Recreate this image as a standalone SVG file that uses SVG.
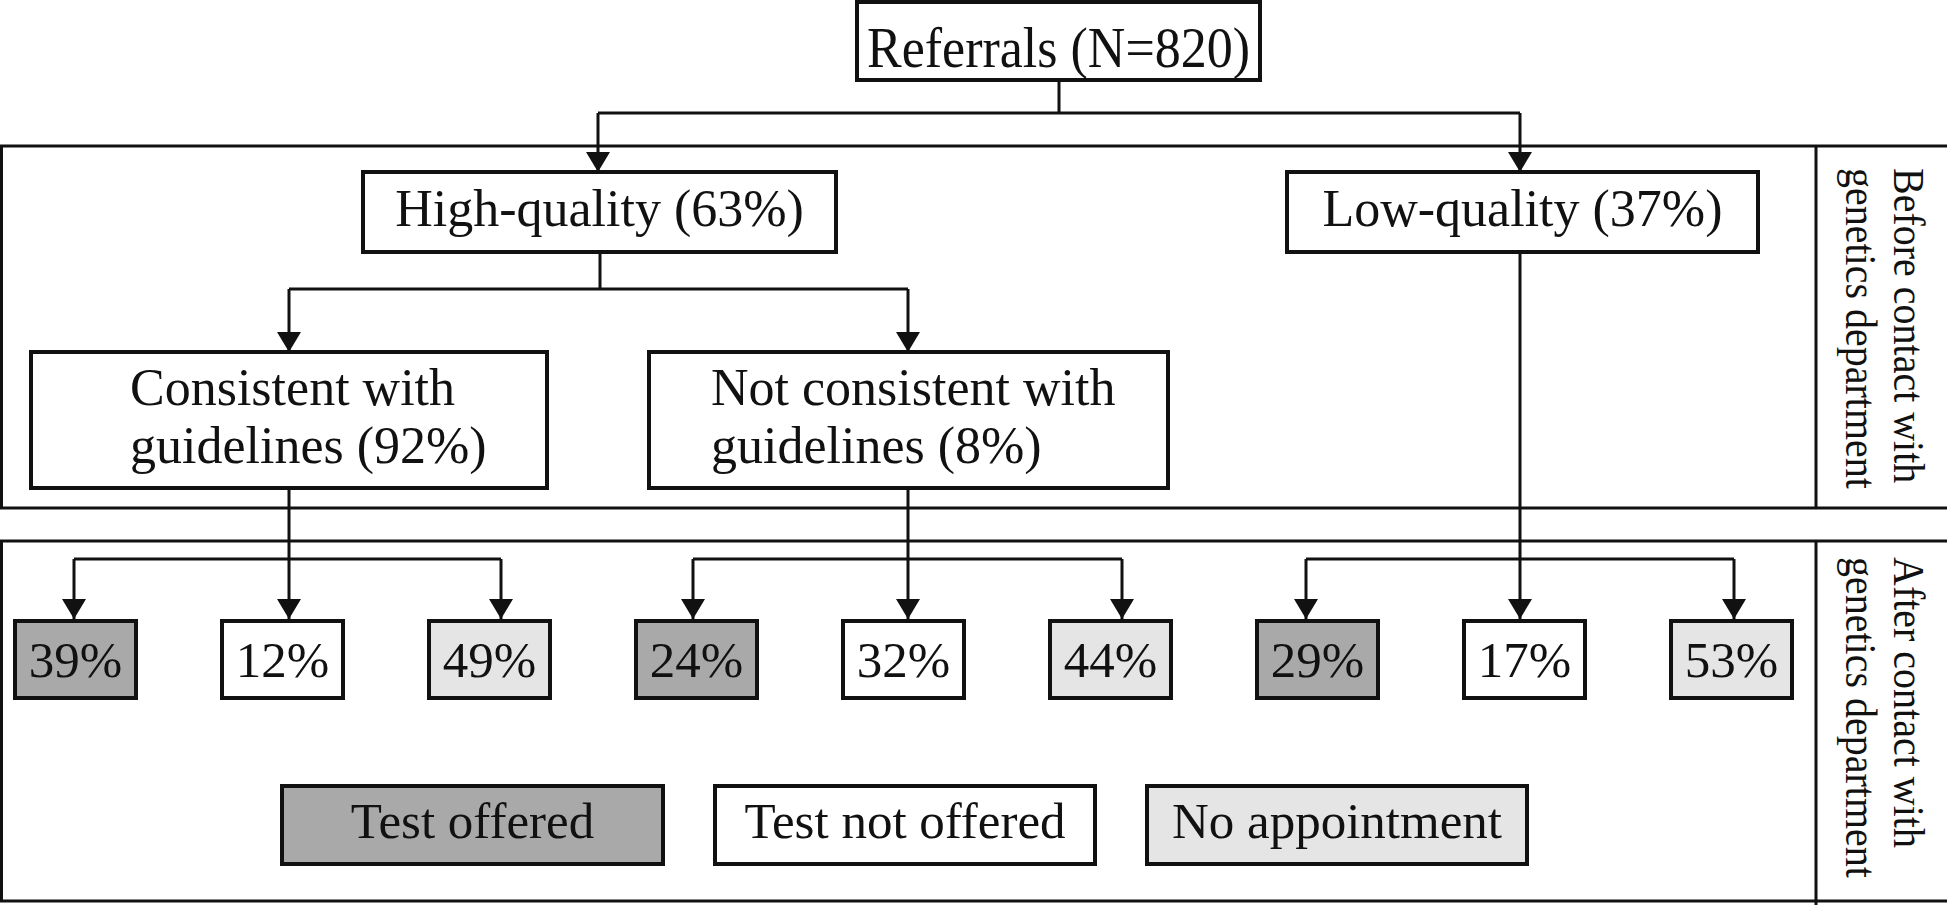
<svg xmlns="http://www.w3.org/2000/svg" width="1947" height="905" viewBox="0 0 1947 905">
<style>
  .box { fill: #ffffff; stroke: #111111; stroke-width: 4; }
  .dark { fill: #a9a9a9; stroke: #111111; stroke-width: 4; }
  .light { fill: #e5e5e5; stroke: #111111; stroke-width: 4; }
  .band { fill: none; stroke: #111111; stroke-width: 3; }
  .t { font-family: "Liberation Serif", "Times New Roman", serif; font-size: 52px; fill: #111111; }
  .p { font-family: "Liberation Serif", "Times New Roman", serif; font-size: 51px; fill: #111111; text-anchor: middle; }
  .side { font-family: "Liberation Serif", "Times New Roman", serif; font-size: 40px; fill: #111111; }
  .c { stroke: #111111; stroke-width: 3; fill: none; }
  .ca { stroke: #111111; stroke-width: 3; fill: none; marker-end: url(#arr); }
</style>
<defs>
  <marker id="arr" markerUnits="userSpaceOnUse" markerWidth="22" markerHeight="26" refX="20" refY="12" orient="auto">
    <path d="M0,0 L20,12 L0,24 Z" fill="#111111"/>
  </marker>
</defs>
<rect width="1947" height="905" fill="#ffffff"/>

<g id="band-before">
  <path class="band" d="M1947,146 H1.5 V508 H1947 M1816,146 V508"/>
  <text class="side" transform="translate(1894,168) rotate(90) scale(1,1.12)">Before contact with</text>
  <text class="side" transform="translate(1846,168) rotate(90) scale(1,1.12)">genetics department</text>
</g>
<g id="band-after">
  <path class="band" d="M1947,541 H1.5 V901 H1947 M1816,541 V905"/>
  <text class="side" transform="translate(1894,557) rotate(90) scale(1,1.12)">After contact with</text>
  <text class="side" transform="translate(1846,557) rotate(90) scale(1,1.12)">genetics department</text>
</g>

<g id="connectors">
  <path class="c" d="M1059,80 V113 M598,113 H1520"/>
  <path class="ca" d="M598,113 V172"/>
  <path class="ca" d="M1520,113 V172"/>
  <path class="c" d="M600,252 V289 M289,289 H908"/>
  <path class="ca" d="M289,289 V352"/>
  <path class="ca" d="M908,289 V352"/>
  <path class="c" d="M74,559 H501"/>
  <path class="ca" d="M289,488 V619"/>
  <path class="ca" d="M74,559 V619"/>
  <path class="ca" d="M501,559 V619"/>
  <path class="c" d="M693,559 H1122"/>
  <path class="ca" d="M908,488 V619"/>
  <path class="ca" d="M693,559 V619"/>
  <path class="ca" d="M1122,559 V619"/>
  <path class="c" d="M1306,559 H1734"/>
  <path class="ca" d="M1520,252 V619"/>
  <path class="ca" d="M1306,559 V619"/>
  <path class="ca" d="M1734,559 V619"/>
</g>

<g id="referrals">
  <rect class="box" x="857" y="2" width="403" height="78"/>
  <text class="t" text-anchor="middle" transform="translate(1058.5,67) scale(1,1.1)">Referrals (N=820)</text>
</g>
<g id="high-quality">
  <rect class="box" x="363" y="172" width="473" height="80"/>
  <text class="t" x="599.5" y="226" text-anchor="middle">High-quality (63%)</text>
</g>
<g id="low-quality">
  <rect class="box" x="1287" y="172" width="471" height="80"/>
  <text class="t" x="1522.5" y="226" text-anchor="middle">Low-quality (37%)</text>
</g>
<g id="consistent">
  <rect class="box" x="31" y="352" width="516" height="136"/>
  <text class="t" x="130" y="405">Consistent with</text>
  <text class="t" x="130" y="463">guidelines (92%)</text>
</g>
<g id="not-consistent">
  <rect class="box" x="649" y="352" width="519" height="136"/>
  <text class="t" x="711" y="405">Not consistent with</text>
  <text class="t" x="711" y="463">guidelines (8%)</text>
</g>

<g id="pct-39"><rect class="dark" x="15" y="621" width="121" height="77"/><text class="p" x="75.5" y="677">39%</text></g>
<g id="pct-12"><rect class="box" x="222" y="621" width="121" height="77"/><text class="p" x="282.5" y="677">12%</text></g>
<g id="pct-49"><rect class="light" x="429" y="621" width="121" height="77"/><text class="p" x="489.5" y="677">49%</text></g>
<g id="pct-24"><rect class="dark" x="636" y="621" width="121" height="77"/><text class="p" x="696.5" y="677">24%</text></g>
<g id="pct-32"><rect class="box" x="843" y="621" width="121" height="77"/><text class="p" x="903.5" y="677">32%</text></g>
<g id="pct-44"><rect class="light" x="1050" y="621" width="121" height="77"/><text class="p" x="1110.5" y="677">44%</text></g>
<g id="pct-29"><rect class="dark" x="1257" y="621" width="121" height="77"/><text class="p" x="1317.5" y="677">29%</text></g>
<g id="pct-17"><rect class="box" x="1464" y="621" width="121" height="77"/><text class="p" x="1524.5" y="677">17%</text></g>
<g id="pct-53"><rect class="light" x="1671" y="621" width="121" height="77"/><text class="p" x="1731.5" y="677">53%</text></g>

<g id="legend-test-offered"><rect class="dark" x="282" y="786" width="381" height="78"/><text class="p" x="472.5" y="838">Test offered</text></g>
<g id="legend-test-not-offered"><rect class="box" x="715" y="786" width="380" height="78"/><text class="p" x="905" y="838">Test not offered</text></g>
<g id="legend-no-appointment"><rect class="light" x="1147" y="786" width="380" height="78"/><text class="p" x="1337" y="838">No appointment</text></g>
</svg>
